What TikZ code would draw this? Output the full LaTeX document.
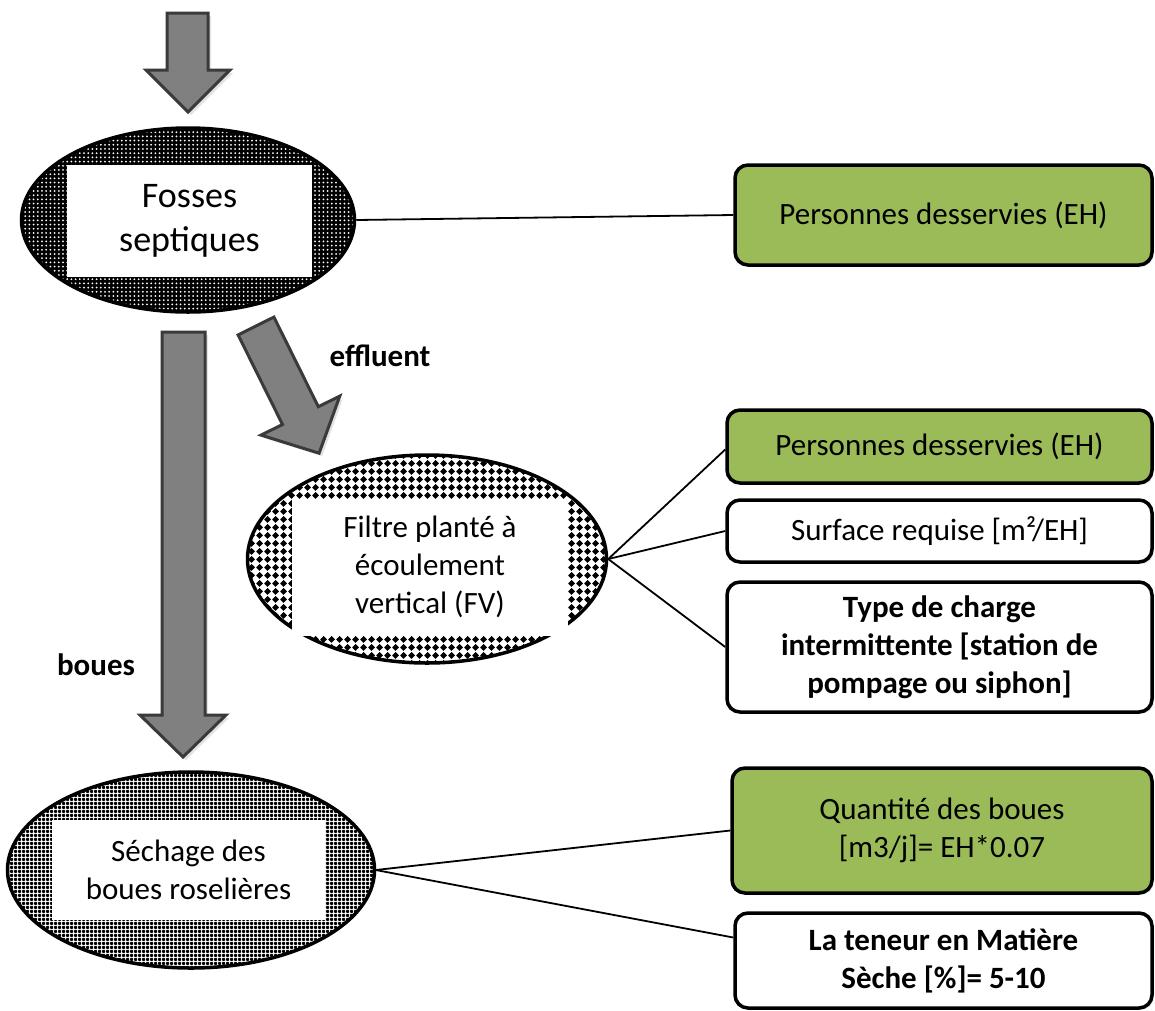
\documentclass[tikz,border=0pt]{standalone}
\usepackage{fontspec}
\setmainfont{Carlito}
\usetikzlibrary{shapes.geometric,patterns.meta,shadows}

\definecolor{boxgreen}{HTML}{9BBB59}
\definecolor{arrowgray}{HTML}{808080}
\definecolor{arrowedge}{HTML}{3A3A3A}

% black diamonds on a square grid
\tikzdeclarepattern{
  name=diamondgrid, type=uncolored,
  bounding box={(0pt,0pt) and (8pt,8pt)},
  tile size={(8pt,8pt)},
  code={\fill (4pt,0.2pt) -- (7.8pt,4pt) -- (4pt,7.8pt) -- (0.2pt,4pt) -- cycle;}
}

\tikzset{
  txt/.style={font=\fontsize{31}{38}\selectfont},
  stage/.style={ellipse, draw=black, line width=3.5pt, inner sep=0pt},
  panel/.style={txt, fill=white, inner sep=0pt, align=center},
  infobox/.style={txt, draw=black, line width=3.5pt, rounded corners=13pt,
    inner sep=0pt, align=center, fill=white,
    drop shadow={shadow xshift=2pt, shadow yshift=-2pt, opacity=0.2}},
  keybox/.style={infobox, fill=boxgreen},
  link/.style={draw=black, line width=1.8pt},
  flow/.style={fill=arrowgray, draw=arrowedge, line width=3pt, line join=miter,
    drop shadow={shadow xshift=3pt, shadow yshift=-3pt, opacity=0.22}},
}

\begin{document}
\begin{tikzpicture}[x=1pt, y=-1pt]
\useasboundingbox (0,0) rectangle (1155,1010);

% --- treatment stages ---
\node[stage, minimum width=333pt, minimum height=184pt,
  preaction={fill=black}, pattern={Dots[radius=1pt, distance=4.2pt]},
  pattern color=white] (fosse) at (188,220) {};
\node[panel, minimum width=245pt, minimum height=112pt,
  font=\fontsize{36}{44}\selectfont] (fossetxt) at (189.5,221) {Fosses\\septiques};

\node[stage, minimum width=359pt, minimum height=208pt,
  preaction={fill=white}, pattern=diamondgrid, pattern color=black]
  (fv) at (427,559) {};
\node[panel, minimum width=276pt, minimum height=137pt] (fvtxt) at (430,567)
  {Filtre planté à\\écoulement\\vertical (FV)};

\node[stage, minimum width=367pt, minimum height=196pt,
  preaction={fill=white}, pattern={Hatch[angle=0, distance=4pt, line width=2.5pt]},
  pattern color=black] (sech) at (191,870) {};
\node[panel, minimum width=273pt, minimum height=100pt] (sechtxt) at (188.5,870)
  {Séchage des\\boues roselières};

% --- flow arrows ---
\draw[flow] (167,13) -- (208,13) -- (208,70) -- (230,70) -- (188,112)
  -- (146,70) -- (167,70) -- cycle;
\draw[flow] (162,332) -- (205,332) -- (205,715) -- (226,715) -- (183,757)
  -- (140,715) -- (162,715) -- cycle;
\draw[flow] (273.9,317.1) -- (318.3,406.7) -- (339.8,396.1) -- (319.1,453.2)
  -- (261.0,435.1) -- (282.5,424.5) -- (238.1,334.9) -- cycle;

\node[txt, font=\fontsize{31}{38}\selectfont\bfseries] (efflbl) at (380,356) {effluent};
\node[txt, font=\fontsize{31}{38}\selectfont\bfseries] (bouelbl) at (96,665) {boues};

% --- parameter boxes ---
\node[keybox, minimum width=417pt, minimum height=100pt] (b1) at (943.5,215)
  {Personnes desservies (EH)};
\node[keybox, minimum width=425pt, minimum height=73pt] (b2) at (939.5,446.5)
  {Personnes desservies (EH)};
\node[infobox, minimum width=425pt, minimum height=62pt] (b3) at (939.5,531)
  {Surface requise [m²/EH]};
\node[infobox, minimum width=425pt, minimum height=130pt,
  font=\fontsize{31}{38}\selectfont\bfseries] (b4) at (939.5,647)
  {Type de charge\\intermittente [station de\\pompage ou siphon]};
\node[keybox, minimum width=420pt, minimum height=125pt] (b5) at (942,830.5)
  {Quantité des boues\\{[}m3/j{]}= EH*0.07};
\node[infobox, minimum width=417pt, minimum height=95pt,
  font=\fontsize{31}{38}\selectfont\bfseries] (b6) at (943.5,960.5)
  {La teneur en Matière\\Sèche {[}\%{]}= 5-10};

% --- connectors ---
\draw[link] (fosse.east) -- (b1.west);
\draw[link] (fv.east) -- ([yshift=-3pt]b2.west);
\draw[link] (fv.east) -- (b3.west);
\draw[link] (fv.east) -- (b4.west);
\draw[link] (sech.east) -- (b5.west);
\draw[link] (sech.east) -- ([yshift=23pt]b6.west);
\end{tikzpicture}
\end{document}
